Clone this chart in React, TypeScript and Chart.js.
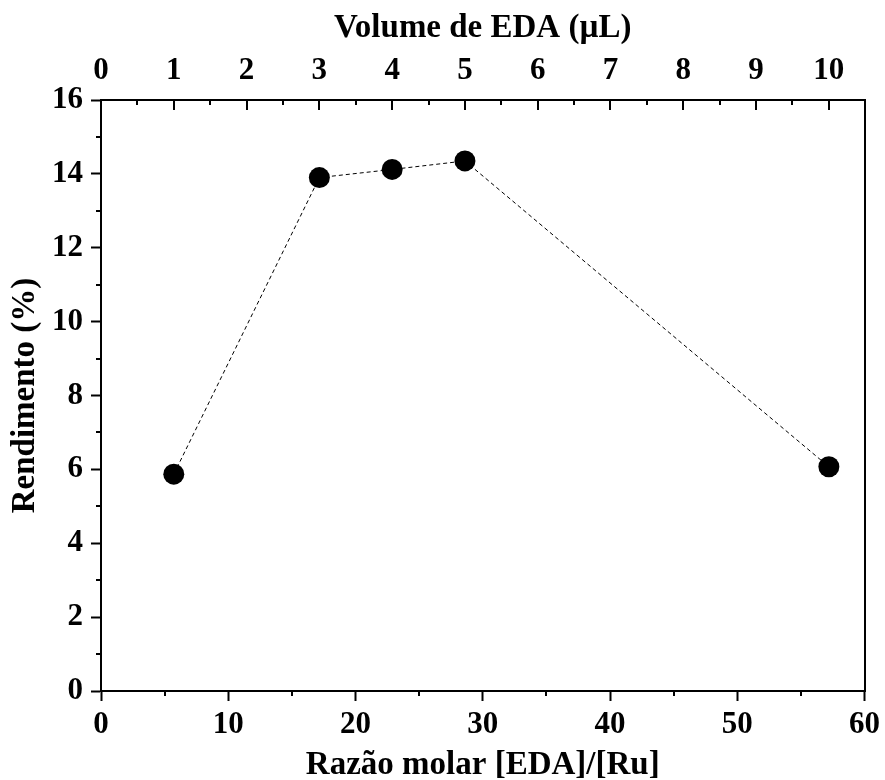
import React, { useEffect, useRef } from "react";
import { Chart, registerables } from "chart.js";

Chart.register(...registerables);

// Data
const VOLUME_UL = [1, 3, 4, 5, 10];
const RATIO_EDA_RU = [5.72, 17.16, 22.88, 28.6, 57.2];
const YIELD_PCT = [5.87, 13.9, 14.12, 14.35, 6.07];

// Ticks
const X_TICKS = [0, 10, 20, 30, 40, 50, 60];
const X_MINOR = [5, 15, 25, 35, 45, 55];
const Y_TICKS = [0, 2, 4, 6, 8, 10, 12, 14, 16];
const Y_MINOR = [1, 3, 5, 7, 9, 11, 13, 15];
const TOP_TICKS = [0, 1, 2, 3, 4, 5, 6, 7, 8, 9, 10];
const TOP_MINOR = [0.5, 1.5, 2.5, 3.5, 4.5, 5.5, 6.5, 7.5, 8.5, 9.5];
const TOP_MAX = 10.49;

const FONT = "'Liberation Serif', 'Times New Roman', Times, serif";

const tickPlugin = {
  id: "extraTicks",
  afterDraw(chart: any) {
    const { ctx, chartArea: a, scales } = chart;
    const x = scales.x, y = scales.y, x2 = scales.x2;
    ctx.save();
    ctx.strokeStyle = "#000";
    ctx.lineWidth = 2;
    ctx.beginPath();
    X_MINOR.forEach((v) => {
      const p = Math.round(x.getPixelForValue(v));
      ctx.moveTo(p, a.bottom);
      ctx.lineTo(p, a.bottom + 5);
    });
    Y_MINOR.forEach((v) => {
      const p = Math.round(y.getPixelForValue(v));
      ctx.moveTo(a.left, p);
      ctx.lineTo(a.left - 5, p);
    });
    TOP_TICKS.forEach((v) => {
      const p = Math.round(x2.getPixelForValue(v));
      ctx.moveTo(p, a.top);
      ctx.lineTo(p, a.top + 10);
    });
    TOP_MINOR.forEach((v) => {
      const p = Math.round(x2.getPixelForValue(v));
      ctx.moveTo(p, a.top);
      ctx.lineTo(p, a.top + 5);
    });
    ctx.stroke();
    ctx.restore();
  },
};

export default function App() {
  const ref = useRef<HTMLCanvasElement | null>(null);

  useEffect(() => {
    if (!ref.current) return;
    const tickFont = { family: FONT, size: 31, weight: "bold" as const };
    const titleFont = { family: FONT, size: 33, weight: "bold" as const };
    const chart = new Chart(ref.current, {
      type: "scatter",
      data: {
        datasets: [
          {
            label: "Rendimento",
            data: RATIO_EDA_RU.map((r, i) => ({ x: r, y: YIELD_PCT[i], v: VOLUME_UL[i] })),
            showLine: true,
            borderColor: "#000",
            borderWidth: 1,
            borderDash: [4, 3],
            pointRadius: 10.5,
            pointHoverRadius: 10.5,
            pointBackgroundColor: "#000",
            pointBorderWidth: 0,
          },
        ],
      },
      options: {
        animation: false,
        responsive: false,
        maintainAspectRatio: false,
        layout: { padding: 0 },
        plugins: { legend: { display: false }, tooltip: { enabled: false } },
        scales: {
          x: {
            type: "linear",
            position: "bottom",
            min: 0,
            max: 60,
            afterBuildTicks: (s: any) => {
              s.ticks = X_TICKS.map((v) => ({ value: v }));
            },
            afterFit: (s: any) => {
              s.height = 89;
            },
            grid: { display: true, drawOnChartArea: false, drawTicks: true, tickLength: 10, tickWidth: 2, tickColor: "#000" },
            border: { display: true, color: "#000", width: 2 },
            ticks: { color: "#000", font: tickFont, padding: 5, maxRotation: 0, autoSkip: false },
            title: { display: true, text: "Razão molar [EDA]/[Ru]", color: "#000", font: titleFont, padding: { bottom: -5 } },
          },
          x2: {
            type: "linear",
            position: "top",
            min: 0,
            max: TOP_MAX,
            afterBuildTicks: (s: any) => {
              s.ticks = TOP_TICKS.map((v) => ({ value: v }));
            },
            afterFit: (s: any) => {
              s.height = 100;
            },
            grid: { display: false, drawTicks: false },
            border: { display: true, color: "#000", width: 2 },
            ticks: { color: "#000", font: tickFont, padding: 10, maxRotation: 0, autoSkip: false },
            title: { display: true, text: "Volume de EDA (µL)", color: "#000", font: titleFont, padding: { top: 9 } },
          },
          y: {
            type: "linear",
            position: "left",
            min: 0,
            max: 16,
            afterBuildTicks: (s: any) => {
              s.ticks = Y_TICKS.map((v) => ({ value: v }));
            },
            afterFit: (s: any) => {
              s.width = 101;
            },
            grid: { display: true, drawOnChartArea: false, drawTicks: true, tickLength: 10, tickWidth: 2, tickColor: "#000" },
            border: { display: true, color: "#000", width: 2 },
            ticks: { color: "#000", font: tickFont, padding: 8, autoSkip: false },
            title: { display: true, text: "Rendimento (%)", color: "#000", font: titleFont, padding: { top: 6 } },
          },
          y2: {
            type: "linear",
            position: "right",
            min: 0,
            max: 16,
            afterFit: (s: any) => {
              s.width = 19;
            },
            grid: { display: false, drawTicks: false },
            border: { display: true, color: "#000", width: 2 },
            ticks: { display: false },
          },
        },
      },
      plugins: [tickPlugin],
    });
    return () => chart.destroy();
  }, []);

  return (
    <canvas
      ref={ref}
      width={885}
      height={780}
      style={{ position: "absolute", left: 0, top: 0, width: 885, height: 780, background: "#fff" }}
    />
  );
}
